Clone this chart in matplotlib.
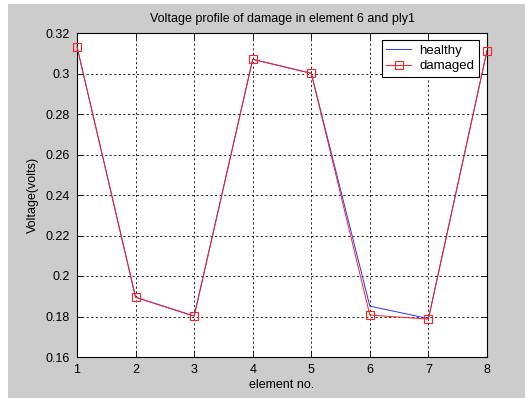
import matplotlib.pyplot as plt
import numpy as np

element = [1, 2, 3, 4, 5, 6, 7, 8]
healthy = [0.3132, 0.1895, 0.1802, 0.3070, 0.3001, 0.1851, 0.1790, 0.3113]
damaged = [0.3132, 0.1895, 0.1802, 0.3070, 0.3001, 0.1807, 0.1787, 0.3113]

xticks = [1, 2, 3, 4, 5, 6, 7, 8]
yticks = [0.16, 0.18, 0.2, 0.22, 0.24, 0.26, 0.28, 0.3, 0.32]
ylabels = ["0.16", "0.18", "0.2", "0.22", "0.24", "0.26", "0.28", "0.3", "0.32"]

plt.rcParams['font.family'] = ['Liberation Sans', 'DejaVu Sans']
plt.rcParams['font.size'] = 8.5

fig = plt.figure(figsize=(5.25, 3.98), dpi=100, facecolor='white')
# grey panel behind the axes, leaving a thin white margin top and left
fig.patches.append(plt.Rectangle((8/525, 0), 1, 1 - 4/398, transform=fig.transFigure,
                                 facecolor='#cccccc', edgecolor='none', zorder=-10))

ax = fig.add_axes([77/525, 41/398, 410/525, 324/398])
ax.set_facecolor('white')

ax.plot(element, healthy, color='#3030ff', lw=0.7, label='healthy', zorder=3)
ax.plot(element, damaged, color='#ff2020', lw=0.7, marker='s', ms=6, mfc='none',
        mec='#ff2020', mew=0.8, label='damaged', zorder=4, clip_on=False)

ax.set_xlim(1, 8)
ax.set_ylim(0.16, 0.32)
ax.set_xticks(xticks)
ax.set_yticks(yticks)
ax.set_yticklabels(ylabels)
ax.tick_params(direction='in', length=4, width=0.6, top=True, right=True,
               labelsize=9, pad=5)
ax.grid(True, color='black', linestyle=(0, (2.5, 3)), linewidth=0.6)
for s in ax.spines.values():
    s.set_linewidth(0.8)

ax.set_title('Voltage profile of damage in element 6 and ply1', fontsize=9, pad=8)
ax.set_xlabel('element no.', fontsize=9, labelpad=2)
ax.set_ylabel('Voltage(volts)', fontsize=9, labelpad=5)

leg = ax.legend(loc='upper right', bbox_to_anchor=(479/525, 1 - 40/398),
                bbox_transform=fig.transFigure, fancybox=False, framealpha=1,
                edgecolor='black', fontsize=9.5, handlelength=1.9,
                handletextpad=0.6, borderpad=0.35, labelspacing=0.25,
                borderaxespad=0)
leg.get_frame().set_linewidth(0.8)

fig.savefig('out.png', dpi=100, facecolor=fig.get_facecolor())
